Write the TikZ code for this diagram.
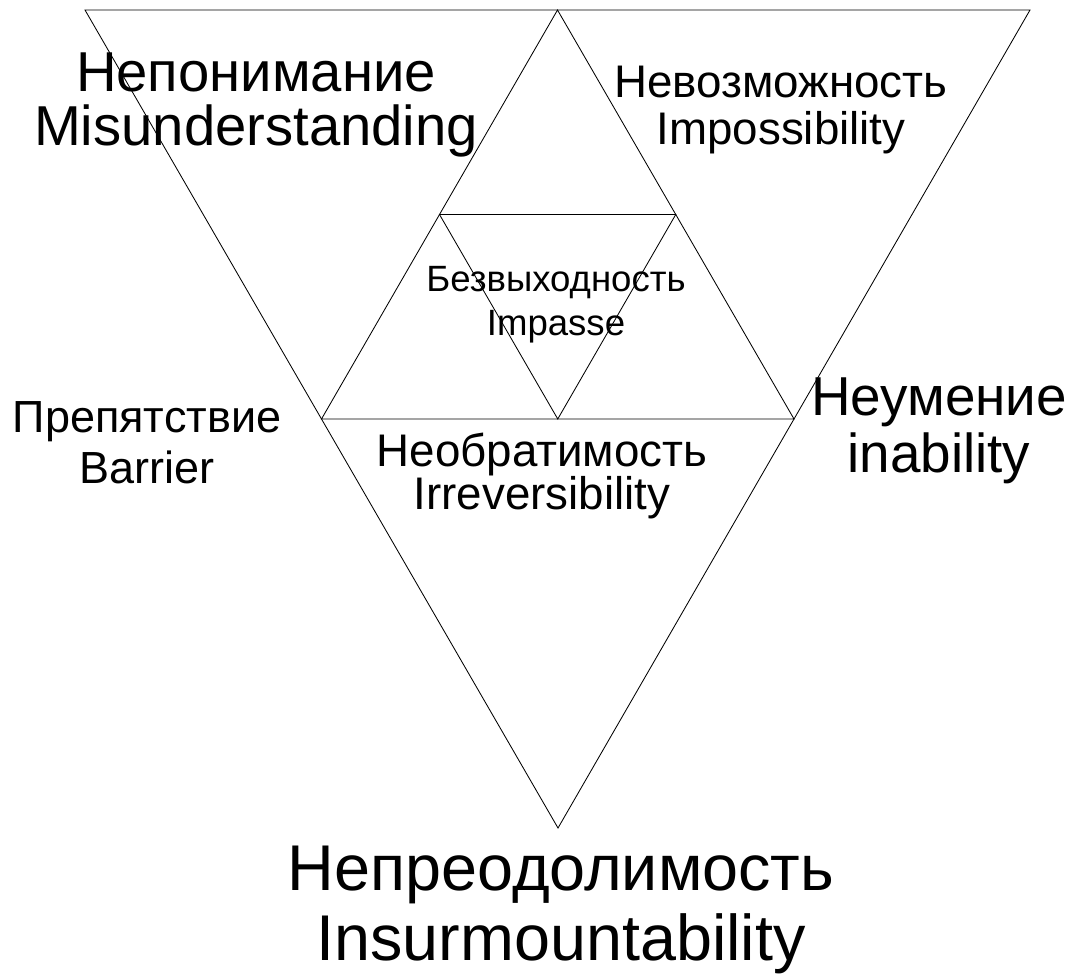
\documentclass[tikz,border=0pt]{standalone}
\usepackage{fontspec}
\setmainfont{Liberation Sans}
\usepackage{tikz}
\usetikzlibrary{calc}

\begin{document}
\begin{tikzpicture}[x=0.025cm,y=-0.025cm,
  lbl/.style n args={2}{align=center,inner sep=0pt,font=\fontsize{#1}{#2}\selectfont},
  edge/.style={draw,line width=0.6pt,line join=miter}
]
  \useasboundingbox (0,0) rectangle (1078,975);
  % outer triangle and its midpoints
  \coordinate (tl) at (85,10);
  \coordinate (tr) at (1030,10);
  \coordinate (bot) at (558,828);
  \coordinate (top) at ($(tl)!0.5!(tr)$);
  \coordinate (ml) at ($(tl)!0.5!(bot)$);
  \coordinate (mr) at ($(tr)!0.5!(bot)$);
  \coordinate (il) at ($(top)!0.5!(ml)$);
  \coordinate (ir) at ($(top)!0.5!(mr)$);
  \coordinate (ib) at ($(ml)!0.5!(mr)$);
  \draw[edge] (tl)--(tr)--(bot)--cycle;
  \draw[edge] (top)--(ml)--(mr)--cycle;
  \draw[edge] (il)--(ir)--(ib)--cycle;

  \node[lbl={40}{38}] (misund) at (256,105) {Непонимание\\Misunderstanding};
  \node[lbl={32.5}{33}] (imposs) at (781,110) {Невозможность\\Impossibility};
  \node[lbl={26}{31}] (impasse) at (556,305) {Безвыходность\\Impasse};
  \node[lbl={32}{36}] (barrier) at (147,443) {Препятствие\\Barrier};
  \node[lbl={39}{40.5}] (inab) at (939,431) {Неумение\\inability};
  \node[lbl={32.5}{31}] (irrev) at (542,476) {Необратимость\\Irreversibility};
  \node[lbl={46}{50}] (insurm) at (561,910) {Непреодолимость\\Insurmountability};
\end{tikzpicture}
\end{document}
